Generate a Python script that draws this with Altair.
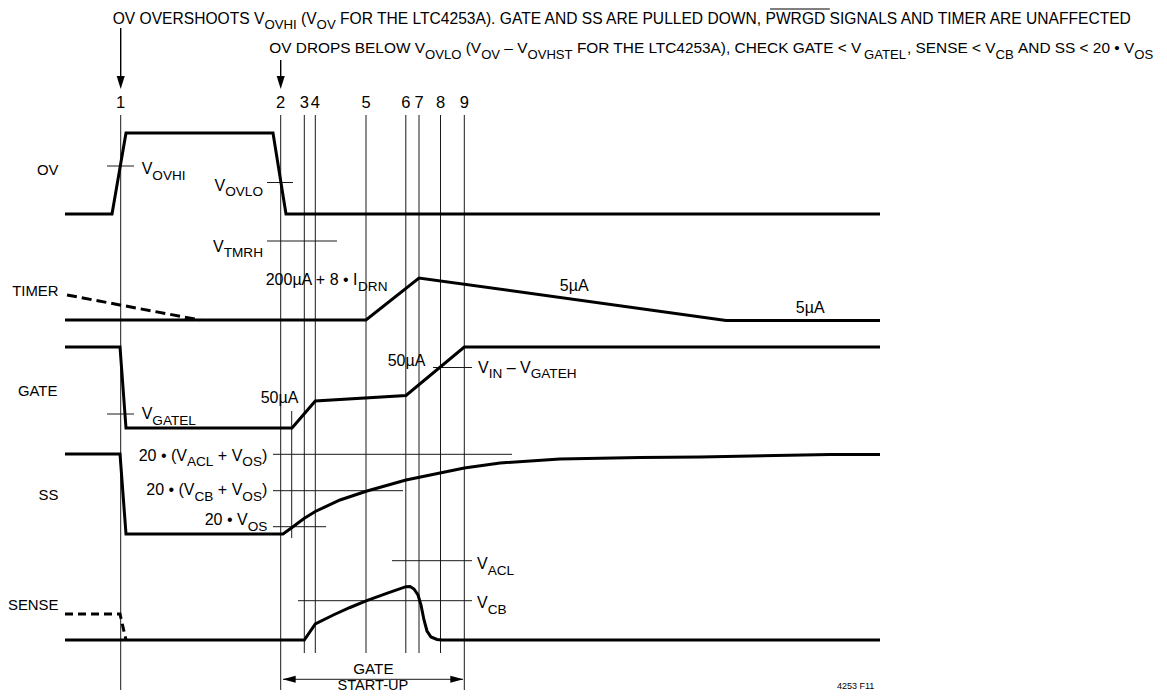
import altair as alt
import pandas as pd

FONT = "Liberation Sans"
TOP1_FS, TOP1_SUB = 15.6, 13.2
TOP2_FS, TOP2_SUB = 15.4, 13.1
ANN_FS, ANN_SUB = 16.0, 13.6
SUB_DROP = 5.8
LBL_FS = 14.9
NUM_FS = 16.5

# ---------------- data ----------------
event_labels = ["1", "2", "3", "4", "5", "6", "7", "8", "9"]
event_x = [120.7, 280.7, 304.3, 315.3, 366.0, 405.8, 419.0, 440.5, 464.3]
event_top = [115, 115, 115, 115, 115, 115, 115, 115, 115]
event_bottom = [690, 690, 653, 653, 653, 653, 653, 653, 690]

signal_names = ["OV", "TIMER", "GATE", "SS", "SENSE"]
signal_label_y = [174.5, 296, 395.5, 499.5, 609.5]

ov_t = [65, 112, 126, 273, 286, 880]
ov_v = [214, 214, 133, 133, 214, 214]

timer_t = [65, 366, 419, 726, 880]
timer_v = [320, 320, 278, 320.5, 320.5]
timer_dash_t = [67, 200]
timer_dash_v = [295, 320]

gate_t = [65, 120, 126, 292, 315.3, 406, 464.3, 880]
gate_v = [347, 347, 428, 428, 401, 395.5, 347, 347]

ss_t = [65, 120, 126, 283, 292, 304, 315.3, 340, 367, 406, 440, 464.3, 500, 560, 640, 700, 830, 880]
ss_v = [454, 454, 534, 534, 527.5, 518.5, 511.5, 500, 491, 480, 473, 468, 463, 459, 457.5, 457, 454.5, 454.5]

sense_t = [65, 304.3, 315.3, 333.3, 350, 366.7, 386.7, 406, 410, 414, 418, 421, 424, 427, 431, 437, 442, 880]
sense_v = [640, 640, 624, 615, 607.5, 600.7, 593.3, 586.7, 586.5, 589, 595, 605, 620, 631, 637, 639.5, 640, 640]
sense_dash_t = [65, 120, 126]
sense_dash_v = [614, 614, 640]

# thin threshold ticks: (x1, x2, y)
tick_x1 = [107, 267, 267, 107, 433, 273, 273, 273, 392, 298, 283]
tick_x2 = [134, 293, 337, 134, 472, 512, 403, 326, 472, 472, 463]
tick_y = [166, 182.5, 241, 414, 367.5, 454.3, 490.7, 526.7, 560.7, 600.7, 679.3]

# short vertical marker at gate start
short_x = [291.7]
short_y1 = [411]
short_y2 = [538]

# top arrows
arrow_x = [120.7, 280.7]
arrow_y1 = [28, 60]
arrow_tip = [89, 89]

# gate start-up arrow tips
startup_left = 282.7
startup_right = 463.3
startup_y = 679.3

# ---------------- text labels ----------------
top_line1 = [("OV OVERSHOOTS V", 0), ("OVHI", 1), (" (V", 0), ("OV", 1),
             (" FOR THE LTC4253A). GATE AND SS ARE PULLED DOWN, PWRGD SIGNALS AND TIMER ARE UNAFFECTED", 0)]
overlined_word = "PWRGD"
top_line2 = [("OV DROPS BELOW V", 0), ("OVLO", 1), (" (V", 0), ("OV", 1), (" – V", 0), ("OVHST", 1),
             (" FOR THE LTC4253A), CHECK GATE < V", 0), ("GATEL", 1), (", SENSE < V", 0), ("CB", 1),
             (" AND SS < 20 • V", 0), ("OS", 1)]

annotations = [
    # segments, anchor x, baseline y, align, size
    ([("V", 0), ("OVHI", 1)], 141.7, 174, "left", ANN_FS),
    ([("V", 0), ("OVLO", 1)], 263, 190.5, "right", ANN_FS),
    ([("V", 0), ("TMRH", 1)], 263, 251.5, "right", ANN_FS),
    ([("200µA + 8 • I", 0), ("DRN", 1)], 265.7, 285, "left", ANN_FS),
    ([("5µA", 0)], 574, 290.5, "center", ANN_FS),
    ([("5µA", 0)], 810, 312.5, "center", ANN_FS),
    ([("V", 0), ("GATEL", 1)], 141.7, 419, "left", ANN_FS),
    ([("50µA", 0)], 298, 403, "right", ANN_FS),
    ([("50µA", 0)], 425, 366, "right", ANN_FS),
    ([("V", 0), ("IN", 1), (" – V", 0), ("GATEH", 1)], 478, 372.5, "left", ANN_FS),
    ([("20 • (V", 0), ("ACL", 1), (" + V", 0), ("OS", 1), (")", 0)], 267.3, 460.5, "right", ANN_FS),
    ([("20 • (V", 0), ("CB", 1), (" + V", 0), ("OS", 1), (")", 0)], 267.3, 495, "right", ANN_FS),
    ([("20 • V", 0), ("OS", 1)], 267.3, 525, "right", ANN_FS),
    ([("V", 0), ("ACL", 1)], 477, 569, "left", ANN_FS),
    ([("V", 0), ("CB", 1)], 477, 608, "left", ANN_FS),
    ([("GATE", 0)], 374, 673.5, "center", 15.2),
    ([("START-UP", 0)], 374, 690, "center", 14.6),
]

# ---------------- helpers ----------------
WID = {' ': 278, '(': 333, ')': 333, '+': 584, ',': 278, '-': 333, '.': 278, '<': 584,
       '•': 350, 'µ': 556, '–': 556,
       'A': 667, 'B': 667, 'C': 722, 'D': 722, 'E': 667, 'F': 611, 'G': 778, 'H': 722,
       'I': 278, 'J': 500, 'K': 667, 'L': 556, 'M': 833, 'N': 722, 'O': 778, 'P': 667,
       'Q': 778, 'R': 722, 'S': 667, 'T': 611, 'U': 722, 'V': 667, 'W': 944, 'X': 667,
       'Y': 667, 'Z': 611}


def tw(s, fs):
    return sum(WID.get(c, 556) for c in s) * fs / 1000.0


def layout(segs, x, base, align="left", main=ANN_FS, sub=ANN_SUB):
    sizes = [sub if s else main for _, s in segs]
    widths = [tw(t, f) for (t, _), f in zip(segs, sizes)]
    total = sum(widths)
    if align == "right":
        cx = x - total
    elif align == "center":
        cx = x - total / 2
    else:
        cx = x
    rows, starts = [], []
    for (t, s), f, w in zip(segs, sizes, widths):
        lead = len(t) - len(t.lstrip(" "))
        txt = t.strip(" ")
        starts.append(cx)
        if txt:
            rows.append(dict(x=cx + tw(" " * lead, f), y=base + (SUB_DROP if s else 0), text=txt, fs=f))
        cx += w
    return rows, starts


text_rows = []
r, st1 = layout(top_line1, 112.7, 23.5, "left", TOP1_FS, TOP1_SUB)
text_rows += r
last = top_line1[-1][0]
k = last.index(overlined_word)
pw_start = st1[-1] + tw(last[:k], TOP1_FS)
pw_end = pw_start + tw(overlined_word, TOP1_FS)
r, _ = layout(top_line2, 269.3, 53.3, "left", TOP2_FS, TOP2_SUB)
text_rows += r
for segs, ax, by, al, fs in annotations:
    r, _ = layout(segs, ax, by, al, fs, ANN_SUB)
    text_rows += r
for name, yy in zip(signal_names, signal_label_y):
    r, _ = layout([(name, 0)], 58.5, yy, "right", LBL_FS)
    text_rows += r
for lab, ex in zip(event_labels, event_x):
    r, _ = layout([(lab, 0)], ex, 108.3, "center", NUM_FS)
    text_rows += r
r, _ = layout([("4253 F11", 0)], 875, 689, "right", 9)
text_rows += r
text_df = pd.DataFrame(text_rows)


def trace(name, ts, vs):
    return [dict(sig=name, i=k, x=t, y=v) for k, (t, v) in enumerate(zip(ts, vs))]


solid_df = pd.DataFrame(trace("OV", ov_t, ov_v) + trace("TIMER", timer_t, timer_v)
                        + trace("GATE", gate_t, gate_v) + trace("SS", ss_t, ss_v)
                        + trace("SENSE", sense_t, sense_v))
timer_dash_df = pd.DataFrame(trace("TIMERD", timer_dash_t, timer_dash_v))
sense_dash_df = pd.DataFrame(trace("SENSED", sense_dash_t, sense_dash_v))

rule_rows = []
for ex, t0, t1 in zip(event_x, event_top, event_bottom):
    rule_rows.append(dict(x=ex, x2=ex, y=t0, y2=t1))
for a, b, yy in zip(tick_x1, tick_x2, tick_y):
    rule_rows.append(dict(x=a, x2=b, y=yy, y2=yy))
for sx, a, b in zip(short_x, short_y1, short_y2):
    rule_rows.append(dict(x=sx, x2=sx, y=a, y2=b))
rule_df = pd.DataFrame(rule_rows)

arrow_df = pd.DataFrame([dict(x=ax, x2=ax, y=a, y2=t - 11) for ax, a, t in zip(arrow_x, arrow_y1, arrow_tip)])
over_df = pd.DataFrame([dict(x=pw_start, x2=pw_end, y=9, y2=9)])
down_df = pd.DataFrame([dict(x=ax, y=t) for ax, t in zip(arrow_x, arrow_tip)])
right_df = pd.DataFrame([dict(x=startup_right, y=startup_y)])
left_df = pd.DataFrame([dict(x=startup_left, y=startup_y)])

# ---------------- chart ----------------
XS = alt.Scale(domain=[8, 1159], range=[0, 1151], zero=False, nice=False)
YS = alt.Scale(domain=[8, 692], range=[0, 684], zero=False, nice=False)
X = alt.X("x:Q", scale=XS, axis=None)
Y = alt.Y("y:Q", scale=YS, axis=None)

rules = alt.Chart(rule_df).mark_rule(color="#1a1a1a", strokeWidth=1).encode(x=X, x2="x2:Q", y=Y, y2="y2:Q")
arrows = alt.Chart(arrow_df).mark_rule(color="black", strokeWidth=1.4).encode(x=X, x2="x2:Q", y=Y, y2="y2:Q")
over = alt.Chart(over_df).mark_rule(color="black", strokeWidth=1.2).encode(x=X, x2="x2:Q", y=Y, y2="y2:Q")

solid = alt.Chart(solid_df).mark_line(color="black", strokeWidth=3, strokeJoin="miter").encode(
    x=X, y=Y, detail="sig:N", order="i:Q")
tdash = alt.Chart(timer_dash_df).mark_line(color="black", strokeWidth=3, strokeDash=[10, 5]).encode(
    x=X, y=Y, order="i:Q")
sdash = alt.Chart(sense_dash_df).mark_line(color="black", strokeWidth=3, strokeDash=[8, 5]).encode(
    x=X, y=Y, order="i:Q")

down = alt.Chart(down_df).mark_point(shape="M-0.62,-2L0.62,-2L0,0Z", size=169, filled=True,
                                     opacity=1, color="black", strokeWidth=0).encode(x=X, y=Y)
rhead = alt.Chart(right_df).mark_point(shape="M0,0L-2,-0.54L-2,0.54Z", size=169, filled=True,
                                       opacity=1, color="black", strokeWidth=0).encode(x=X, y=Y)
lhead = alt.Chart(left_df).mark_point(shape="M0,0L2,-0.54L2,0.54Z", size=169, filled=True,
                                      opacity=1, color="black", strokeWidth=0).encode(x=X, y=Y)

texts = alt.Chart(text_df).mark_text(align="left", baseline="alphabetic", font=FONT, color="black").encode(
    x=X, y=Y, text="text:N", size=alt.Size("fs:Q", scale=None))

chart = alt.layer(rules, arrows, over, solid, tdash, sdash, down, rhead, lhead, texts).properties(
    width=1151, height=684, padding=0, autosize=alt.AutoSizeParams(type="none")
).configure_view(stroke=None)

chart.save("out.html", embed_options={"renderer": "svg", "actions": False})
